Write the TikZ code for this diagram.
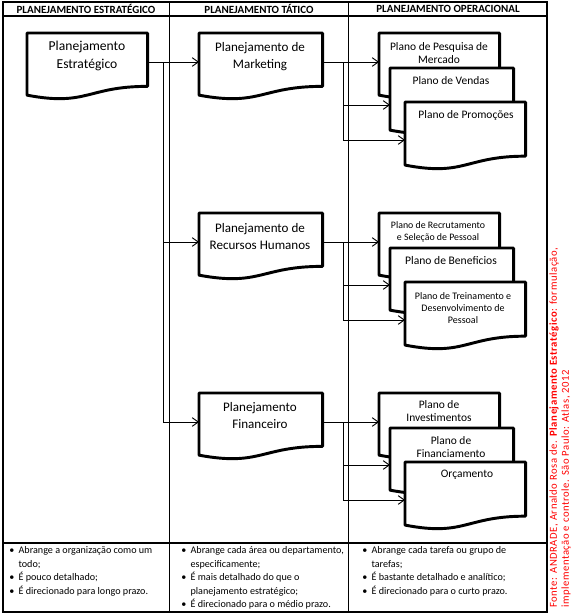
\documentclass[tikz,border=0pt]{standalone}
\usepackage{fontspec}
\setmainfont{Carlito}
\newfontfamily\srcfont{Carlito}[LetterSpace=5]
\usetikzlibrary{arrows.meta,calc}

\definecolor{fontered}{RGB}{255,0,0}

\tikzset{
  table/.style={line width=0.8pt},
  docline/.style={line width=2.2pt, fill=white, line join=round},
  docarea/.style={inner sep=0pt, anchor=north west},
  conn/.style={line width=0.7pt},
  arr/.style={conn, -{Straight Barb[length=4.5pt,width=6.5pt]}},
  head/.style={font=\fontsize{8.25}{9}\selectfont\bfseries},
  tat/.style={align=center, font=\fontsize{9.8}{12.8}\selectfont},
  ope/.style={align=center, font=\fontsize{8.6}{9.75}\selectfont},
  bullets/.style={anchor=north west, inner sep=0pt, align=left, font=\fontsize{7.6}{10.1}\selectfont},
}

% document shape: name, left, top, width, height, offset of connector
\newcommand{\docshape}[6]{%
  \node[docarea, minimum width=#4*0.75pt, minimum height=#5*0.75pt] (#1) at (#2,#3) {};
  \draw[docline] (#1.north west) -- (#1.north east)
    -- ($(#1.north east)!0.802!(#1.south east)$)
    .. controls ($(#1.north)!0.802!(#1.south)$) and ($(#1.north)!1.107!(#1.south)$)
    .. ($(#1.north west)!0.934!(#1.south west)$) -- cycle;
  \coordinate (#1-in) at ($(#1.north west)+(0,#6)$);
  \coordinate (#1-out) at ($(#1.north east)+(0,#6)$);
}
\newcommand{\bul}{\makebox[7pt][l]{\textbullet}}
\newcommand{\ind}{\hspace*{7pt}}

\begin{document}
\begin{tikzpicture}[x=0.75pt,y=-0.75pt]
  \useasboundingbox (0,0) rectangle (582,615);

  % Table
  \draw[table] (3,2) rectangle (547,612);
  \draw[table] (3,16) -- (547,16);
  \draw[table] (3,543) -- (547,543);
  \draw[table] (169.5,2) -- (169.5,612);
  \draw[table] (348.5,2) -- (348.5,612);

  % Headers
  \node[head] (h1) at (86,9) {PLANEJAMENTO ESTRATÉGICO};
  \node[head] (h2) at (259,9) {PLANEJAMENTO TÁTICO};
  \node[head] (h3) at (448,9) {PLANEJAMENTO OPERACIONAL};

  % Strategic document
  \docshape{pe}{27}{33}{120}{66}{29}
  \node[align=center, font=\fontsize{10.2}{13.5}\selectfont] (pe-t) at (87,56) {Planejamento\\Estratégico};

  % Tactical and operational documents
  \foreach \g/\G in {mk/33, rh/213, fi/393} {
    \docshape{\g}{199}{\G}{123}{66}{29}
    \docshape{\g1}{379}{\G}{120}{66}{29}
    \docshape{\g2}{390}{\G+35}{123}{66}{37}
    \docshape{\g3}{405}{\G+69}{120}{67}{38}
  }

  % Tactical texts
  \node[tat] (mk-t) at (260,56.5) {Planejamento de\\Marketing};
  \node[tat] (rh-t) at (260,236.5) {Planejamento de\\Recursos Humanos};
  \node[tat] (fi-t) at (260,415.5) {Planejamento\\Financeiro};

  % Operational texts
  \node[ope] (mk1-t) at (439,53.5) {Plano de Pesquisa de\\Mercado};
  \node[ope] (mk2-t) at (451,81) {Plano de Vendas};
  \node[ope] (mk3-t) at (466,115) {Plano de Promoções};
  \node[ope, font=\fontsize{7.4}{9}\selectfont] (rh1-t) at (438,232) {Plano de Recrutamento\\e Seleção de Pessoal};
  \node[ope, font=\fontsize{8.7}{10}\selectfont] (rh2-t) at (451,261) {Plano de Beneficios};
  \node[ope, font=\fontsize{7.5}{9.3}\selectfont] (rh3-t) at (463,308) {Plano de Treinamento e\\Desenvolvimento de\\Pessoal};
  \node[ope] (fi1-t) at (439,411.5) {Plano de\\Investimentos};
  \node[ope, font=\fontsize{8.6}{9.2}\selectfont] (fi2-t) at (451,447) {Plano de\\Financiamento};
  \node[ope] (fi3-t) at (467,475) {Orçamento};

  % Connectors strategic -> tactical
  \coordinate (busS) at (163,0);
  \draw[arr] (pe-out) -- (mk-in);
  \draw[arr] (busS |- pe-out) |- (rh-in);
  \draw[arr] (busS |- pe-out) |- (fi-in);

  % Connectors tactical -> operational
  \coordinate (busT) at (343,0);
  \foreach \g in {mk, rh, fi} {
    \draw[arr] (\g-out) -- (\g1-in);
    \draw[arr] (busT |- \g-out) |- (\g2-in);
    \draw[arr] (busT |- \g-out) |- (\g3-in);
  }

  % Characteristics
  \node[bullets] (c1) at (9,546.5) {\bul Abrange a organização como um\\\ind todo;\\\bul É pouco detalhado;\\\bul É direcionado para longo prazo.};
  \node[bullets] (c2) at (181,546.5) {\bul Abrange cada área ou departamento,\\\ind especificamente;\\\bul É mais detalhado do que o\\\ind planejamento estratégico;\\\bul É direcionado para o médio prazo.};
  \node[bullets] (c3) at (362,546.5) {\bul Abrange cada tarefa ou grupo de\\\ind tarefas;\\\bul É bastante detalhado e analítico;\\\bul É direcionado para o curto prazo.};

  % Source
  \node[rotate=90, anchor=north west, inner sep=0pt, align=left, text=fontered, font=\fontsize{8}{9}\srcfont] (fonte) at (549,608)
    {Fonte: ANDRADE, Arnaldo Rosa de. \textbf{Planejamento Estratégico}: formulação,\\implementação e controle. São Paulo: Atlas, 2012};
\end{tikzpicture}
\end{document}
